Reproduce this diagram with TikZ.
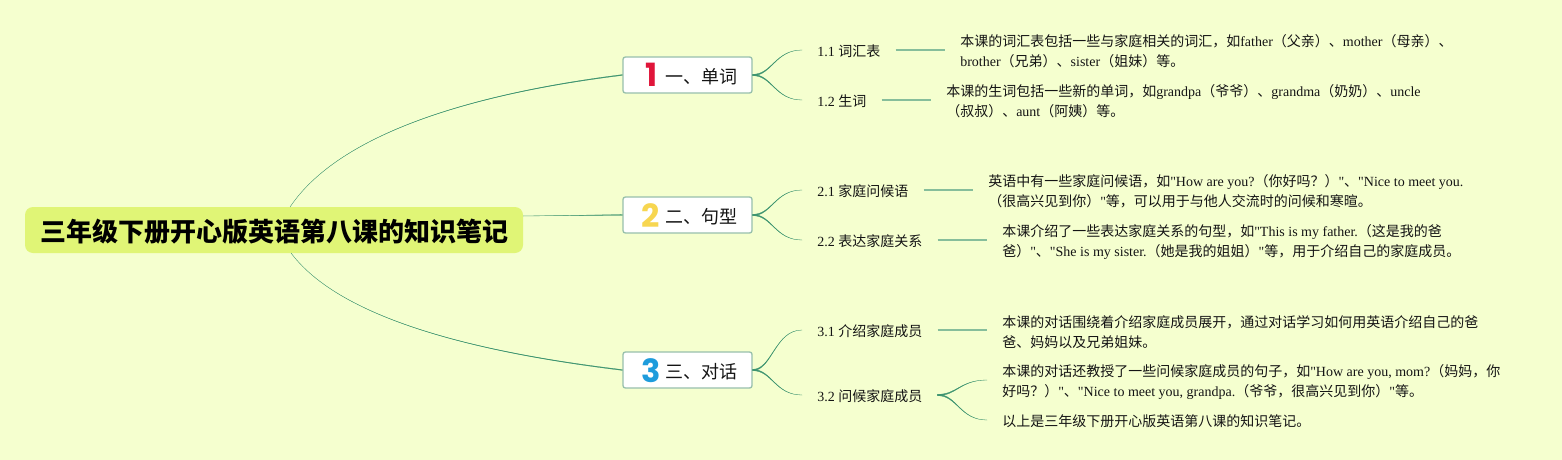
\documentclass[tikz,border=0pt]{standalone}
\usepackage{fontspec}
\setmainfont{Noto Sans CJK SC}
\newfontfamily\en{Liberation Serif}
\newfontfamily\digitfont{Poppins}
\newcommand{\e}[1]{{\en #1}}
\newcommand{\lift}{\rule{0pt}{11.4pt}}
\definecolor{bgc}{RGB}{245,255,207}
\definecolor{rootc}{RGB}{224,245,118}
\definecolor{linkc}{RGB}{62,148,112}
\definecolor{leafc}{RGB}{134,190,155}
\definecolor{boxc}{RGB}{152,192,172}
\definecolor{txt}{RGB}{20,20,20}
\tikzset{
  rootbox/.style={fill=rootc,rounded corners=6pt,inner sep=0pt,minimum width=373.5pt,minimum height=34.5pt,font=\fontsize{19.5pt}{24pt}\selectfont\bfseries,text=black,execute at begin node={\rule{0pt}{20pt}}},
  topicbox/.style={draw=boxc,line width=1pt,fill=white,rounded corners=1.8pt,inner ysep=0pt,inner xsep=11.25pt,minimum height=27pt,text width=74.25pt,align=right,font=\fontsize{13.5pt}{16pt}\selectfont,text=txt,execute at begin node={\rule{0pt}{13.6pt}}},
  digitnum/.style={inner sep=0pt,font=\fontsize{24pt}{24pt}\selectfont\digitfont\bfseries},
  subbox/.style={anchor=west,inner xsep=11.25pt,inner ysep=0pt,font=\fontsize{10.5pt}{15pt}\selectfont,text=txt,execute at begin node={\rule{0pt}{10.9pt}}},
  leafbox/.style={anchor=west,inner xsep=11.25pt,inner ysep=0pt,align=left,font=\fontsize{10.5pt}{15pt}\selectfont,text=txt},
  curvefill/.style={fill=linkc,draw=linkc,line width=0.2pt},
  leaflink/.style={draw=leafc,line width=1pt}
}
% thin at the start, thicker at the end
\newcommand{\rootcurve}[4]{\path[curvefill] (#1) .. controls (#2) and (#3) .. ([yshift=.3pt]#4) -- ([yshift=-.3pt]#4) .. controls ([yshift=-.25pt]#3) and ([yshift=-.1pt]#2) .. (#1) -- cycle;}
% thick at the start, thin at the end
\newcommand{\subcurve}[4]{\path[curvefill] ([yshift=.5pt]#1) .. controls ([yshift=.4pt]#2) and (#3) .. (#4) .. controls ([yshift=-.1pt]#3) and ([yshift=-.4pt]#2) .. ([yshift=-.5pt]#1) -- cycle;}
\begin{document}
\begin{tikzpicture}[x=0.75pt,y=-0.75pt]
\useasboundingbox (0,0) rectangle (1562,460);
\fill[bgc] (0,0) rectangle (1562,460);

\node[rootbox] (root) at (274,230) {三年级下册开心版英语第八课的知识笔记};
\coordinate (r1) at (290,207);
\coordinate (r2) at (523,216);
\coordinate (r3) at (291,253);

\node[topicbox] (t1) at (687.5,75) {一、单词};
\node[topicbox] (t2) at (687.5,215) {二、句型};
\node[topicbox] (t3) at (687.5,370) {三、对话};
\node[digitnum,text={rgb,255:red,224;green,21;blue,58}] (n1) at (652,75) {1};
\node[digitnum,text={rgb,255:red,247;green,214;blue,80}] (n2) at (651,216) {2};
\node[digitnum,text={rgb,255:red,30;green,156;blue,220}] (n3) at (651,371) {3};

\node[subbox] (s11) at (802,50) {\e{1.1 }词汇表};
\node[subbox] (s12) at (802,100) {\e{1.2 }生词};
\node[subbox] (s21) at (802,190) {\e{2.1 }家庭问候语};
\node[subbox] (s22) at (802,240) {\e{2.2 }表达家庭关系};
\node[subbox] (s31) at (802,330) {\e{3.1 }介绍家庭成员};
\node[subbox] (s32) at (802,395) {\e{3.2 }问候家庭成员};

\node[leafbox] (d11) at (945,50) {\lift 本课的词汇表包括一些与家庭相关的词汇，如\e{father}（父亲）、\e{mother}（母亲）、\\\e{brother}（兄弟）、\e{sister}（姐妹）等。};
\node[leafbox] (d12) at (931,100) {\lift 本课的生词包括一些新的单词，如\e{grandpa}（爷爷）、\e{grandma}（奶奶）、\e{uncle}\\（叔叔）、\e{aunt}（阿姨）等。};
\node[leafbox] (d21) at (973,190) {\lift 英语中有一些家庭问候语，如\e{"How are you?}（你好吗？）\e{"}、\e{"Nice to meet you.}\\（很高兴见到你）\e{"}等，可以用于与他人交流时的问候和寒暄。};
\node[leafbox] (d22) at (987,240) {\lift 本课介绍了一些表达家庭关系的句型，如\e{"This is my father.}（这是我的爸\\爸）\e{"}、\e{"She is my sister.}（她是我的姐姐）\e{"}等，用于介绍自己的家庭成员。};
\node[leafbox] (d31) at (987,330) {\lift 本课的对话围绕着介绍家庭成员展开，通过对话学习如何用英语介绍自己的爸\\爸、妈妈以及兄弟姐妹。};
\node[leafbox] (d32) at (987,380) {\lift 本课的对话还教授了一些问候家庭成员的句子，如\e{"How are you, mom?}（妈妈，你\\好吗？）\e{"}、\e{"Nice to meet you, grandpa.}（爷爷，很高兴见到你）\e{"}等。};
\node[subbox] (d33) at (987,420) {以上是三年级下册开心版英语第八课的知识笔记。};

\rootcurve{r1}{345,125}{500,90}{t1.west}
\rootcurve{r2}{570,215.5}{590,215}{t2.west}
\rootcurve{r3}{345,325}{500,355}{t3.west}

\subcurve{t1.east}{772,75}{775,50}{s11.west}
\subcurve{t1.east}{772,75}{775,100}{s12.west}
\subcurve{t2.east}{772,215}{775,190}{s21.west}
\subcurve{t2.east}{772,215}{775,240}{s22.west}
\subcurve{t3.east}{772,370}{775,330}{s31.west}
\subcurve{t3.east}{772,370}{775,395}{s32.west}

\draw[leaflink] (s11.east) -- (d11.west);
\draw[leaflink] (s12.east) -- (d12.west);
\draw[leaflink] (s21.east) -- (d21.west);
\draw[leaflink] (s22.east) -- (d22.west);
\draw[leaflink] (s31.east) -- (d31.west);
\subcurve{s32.east}{957,395}{960,380}{d32.west}
\subcurve{s32.east}{957,395}{960,420}{d33.west}
\end{tikzpicture}
\end{document}
